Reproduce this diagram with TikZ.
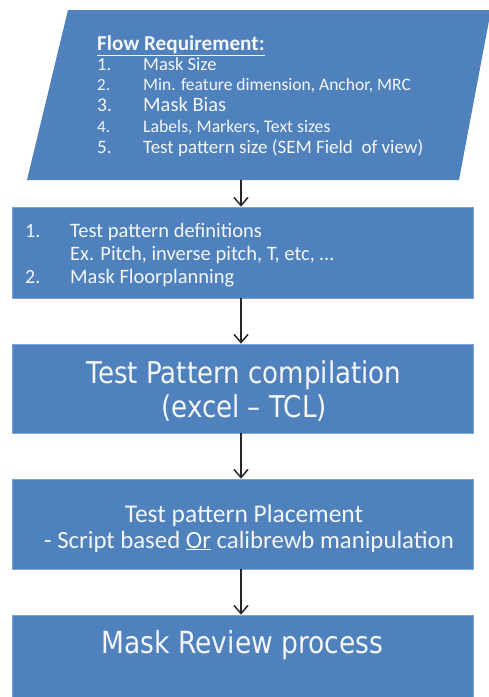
\documentclass[tikz,border=0pt]{standalone}
\usepackage{fontspec}
\setmainfont{Carlito}
\newfontfamily\widefont[FakeStretch=0.87]{DejaVu Sans}
\usetikzlibrary{arrows.meta}
\definecolor{boxblue}{HTML}{4F81BD}
\definecolor{boxedge}{HTML}{7FA5D6}
\definecolor{txt}{HTML}{F4F6FA}
\definecolor{arrowgray}{HTML}{262626}
\tikzset{
  stage/.style={rectangle, fill=boxblue, draw=boxedge, line width=0.8pt,
    minimum width=461pt, inner sep=0pt},
  lbl/.style={text=txt, inner sep=0pt, anchor=base west},
  ctr/.style={text=txt, inner sep=0pt, anchor=base},
  flow/.style={draw=arrowgray, line width=1.5pt,
    -{Straight Barb[length=8pt,width=14pt,line width=1.5pt]}},
}
\begin{document}
\begin{tikzpicture}[x=1pt,y=-1pt]
\useasboundingbox (0,0) rectangle (489,697);
\clip (0,0) rectangle (489,697);
\fill[white] (0,0) rectangle (489,697);

% input parallelogram
\fill[boxblue] (68,10) -- (491,10) -- (459,180) -- (27,180) -- cycle;
\coordinate (req) at (241,180);

\node[lbl, font=\fontsize{21.2}{24}\selectfont\bfseries] (rtitle) at (97,50) {\underline{Flow Requirement:}};
\node[lbl, font=\fontsize{18.5}{22}\selectfont] (rn1) at (97,70) {1.};
\node[lbl, font=\fontsize{18.5}{22}\selectfont] (rt1) at (143,70) {Mask Size};
\node[lbl, font=\fontsize{17}{20}\selectfont] (rn2) at (97,90) {2.};
\node[lbl, font=\fontsize{17.5}{20}\selectfont] (rt2) at (143,90) {Min. feature dimension, Anchor, MRC};
\node[lbl, font=\fontsize{19.5}{22}\selectfont] (rn3) at (97,111) {3.};
\node[lbl, font=\fontsize{20.5}{22}\selectfont] (rt3) at (143,111) {Mask Bias};
\node[lbl, font=\fontsize{17}{20}\selectfont] (rn4) at (97,132) {4.};
\node[lbl, font=\fontsize{17.7}{20}\selectfont] (rt4) at (143,132) {Labels, Markers, Text sizes};
\node[lbl, font=\fontsize{19}{22}\selectfont] (rn5) at (97,153) {5.};
\node[lbl, font=\fontsize{19}{22}\selectfont] (rt5) at (143,153) {Test pattern size (SEM Field \ of view)};

% definitions box
\node[stage, minimum height=91pt] (defs) at (242.5,252.5) {};
\node[lbl, font=\fontsize{20}{24}\selectfont] (dn1) at (25,237) {1.};
\node[lbl, font=\fontsize{20.5}{24}\selectfont] (dt1) at (70,237) {Test pattern definitions};
\node[lbl, font=\fontsize{20.5}{24}\selectfont] (dt1b) at (70,260) {Ex. Pitch, inverse pitch, T, etc, \ldots};
\node[lbl, font=\fontsize{20}{24}\selectfont] (dn2) at (25,283) {2.};
\node[lbl, font=\fontsize{20.5}{24}\selectfont] (dt2) at (70,283) {Mask Floorplanning};

% compilation box
\node[stage, minimum height=89pt] (comp) at (242.5,388.5) {};
\node[ctr, font=\widefont\fontsize{30}{34}\selectfont] (ct1) at (244,383) {Test Pattern compilation};
\node[ctr, font=\widefont\fontsize{30}{34}\selectfont] (ct2) at (244,417) {(excel – TCL)};

% placement box
\node[stage, minimum height=90pt] (place) at (242.5,524) {};
\node[ctr, font=\fontsize{25.5}{30}\selectfont] (pt1) at (244,522) {Test pattern Placement};
\node[ctr, font=\fontsize{24.8}{30}\selectfont] (pt2) at (249,548) {- Script based \underline{Or} calibrewb manipulation};

% review box
\node[stage, minimum height=100pt] (review) at (242.5,665) {};
\node[ctr, font=\widefont\fontsize{30.5}{34}\selectfont] (rv) at (242.5,653) {Mask Review process};

% connectors
\draw[flow] (req) -- (defs.north -| req);
\draw[flow] (defs.south -| req) -- (comp.north -| req);
\draw[flow] (comp.south -| req) -- (place.north -| req);
\draw[flow] (place.south -| req) -- (review.north -| req);
\end{tikzpicture}
\end{document}
